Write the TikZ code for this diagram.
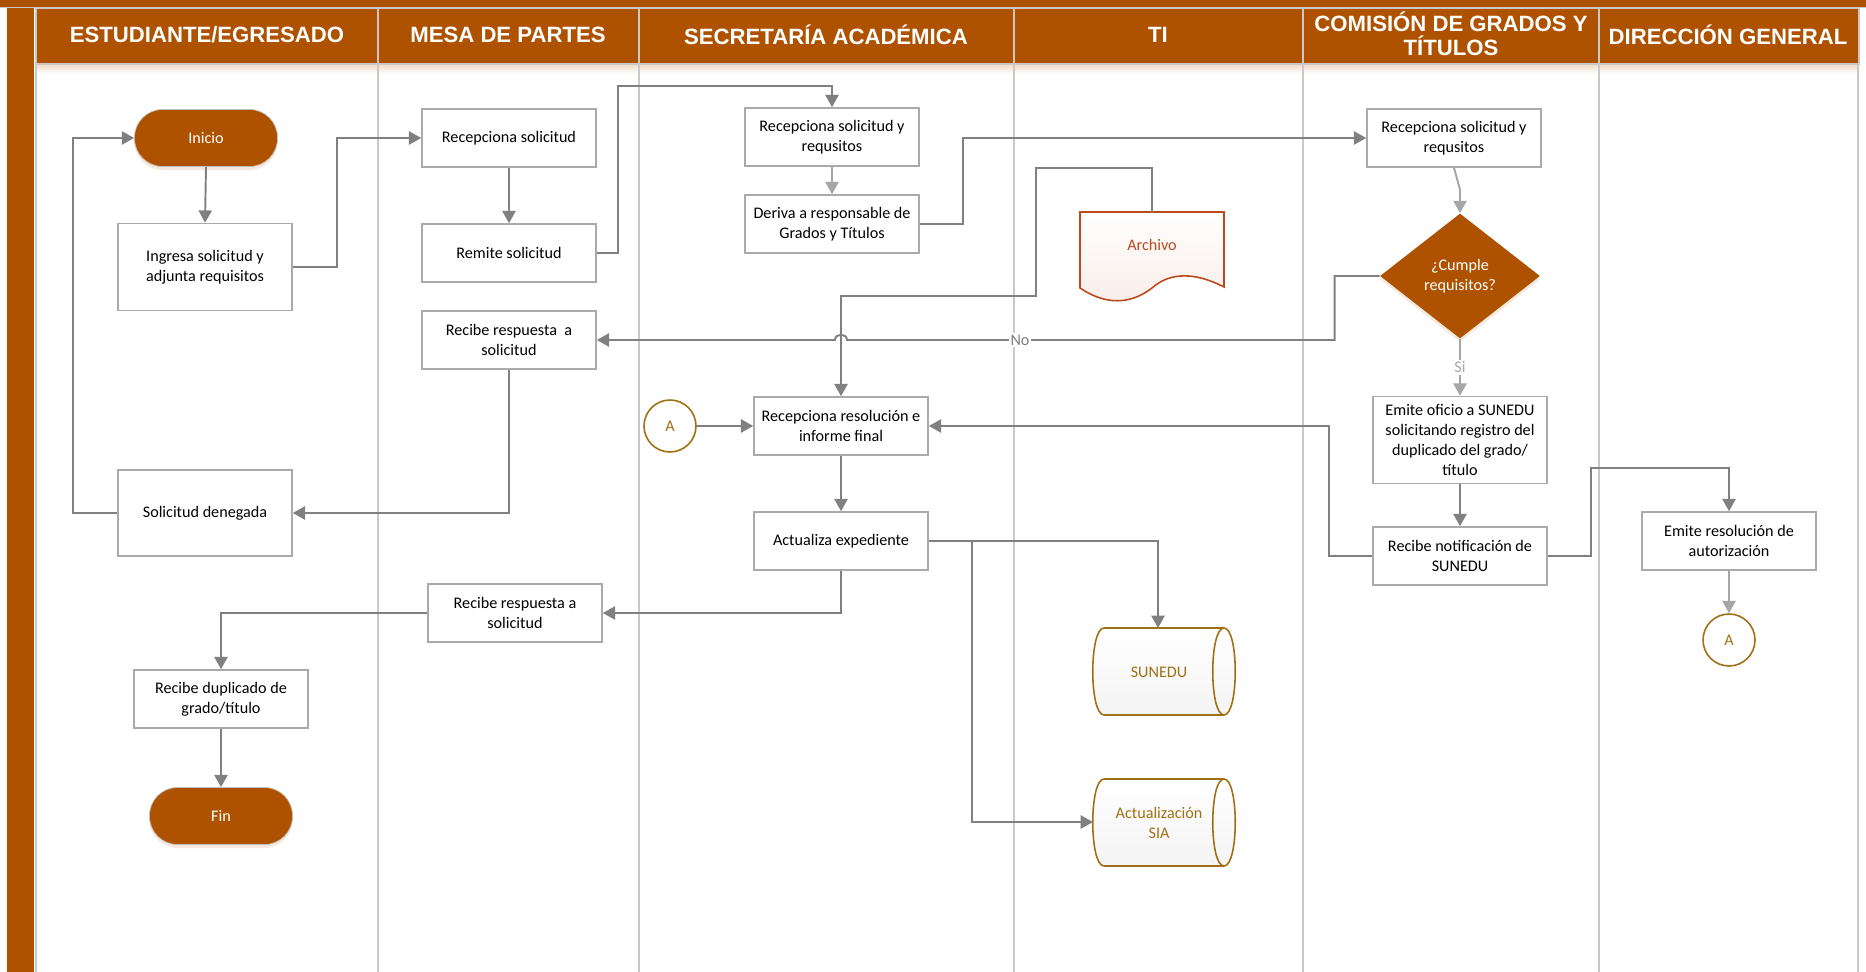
\documentclass[tikz,border=0pt]{standalone}
\usepackage{fontspec}
\setmainfont{Carlito}
\newfontfamily\hdrfont{Liberation Sans}
\usetikzlibrary{arrows.meta,shapes.geometric,shadows,calc}
\definecolor{orng}{RGB}{175,82,0}
\definecolor{gold}{RGB}{160,112,20}
\definecolor{archc}{RGB}{188,72,28}
\definecolor{lnc}{RGB}{128,128,128}
\definecolor{lnl}{RGB}{166,166,166}
\definecolor{bxc}{RGB}{170,170,170}
\definecolor{colc}{RGB}{205,199,197}
\begin{document}
\begin{tikzpicture}[x=0.02cm,y=-0.02cm,
  every node/.style={font=\fontsize{9.2}{11.3}\selectfont, align=center},
  proc/.style={draw=bxc, line width=0.9pt, fill=white, minimum width=174*0.02cm, minimum height=58*0.02cm, inner sep=1pt},
  term/.style={fill=orng, draw=gray!50, line width=0.4pt, text=white, rounded corners=0.56cm, minimum width=143*0.02cm, minimum height=57*0.02cm,
     drop shadow={shadow xshift=0pt, shadow yshift=-2pt, opacity=0.35, fill=orng!35}},
  dec/.style={diamond, fill=orng, text=white, minimum width=160*0.02cm, minimum height=125*0.02cm, inner sep=0pt, aspect=1.28,
     drop shadow={shadow xshift=0pt, shadow yshift=-2pt, opacity=0.35, fill=orng!35}},
  conA/.style={circle, draw=gold, line width=0.9pt, fill=white, text=gold, minimum size=52*0.02cm, inner sep=0pt},
  conn/.style={draw=lnc, line width=1.1pt, -{Triangle[length=7pt,width=7.5pt]}},
  connl/.style={conn, draw=lnl},
  hdr/.style={text=white, font=\hdrfont\bfseries\fontsize{12.6}{14}\selectfont},
  hcell/.style={fill=orng, draw=colc, line width=0.8pt},
  store/.style={draw=gold, line width=0.9pt, top color=white, bottom color=gray!9},
  docsh/.style={draw=archc, line width=0.9pt, top color=white, bottom color=archc!10},
  lbl/.style={fill=white, inner sep=1pt}
]
\useasboundingbox (0,0) rectangle (1866,972);
% frame
\fill[white] (0,0) rectangle (1866,972);
\fill[orng] (0,0) rectangle (1866,7);
\draw[colc, line width=0.6pt] (0,7.5) -- (1866,7.5);
\fill[orng] (7,8) rectangle (34,972);
\shade[top color=orng!22, bottom color=white] (36,64) rectangle (1859,74);
\foreach \xa/\xb in {36/378,378/639,639/1014,1014/1303,1303/1599,1599/1859}
  \path[hcell] (\xa,8) rectangle (\xb,64);
\foreach \xx in {36,378,639,1014,1303,1599,1858}
  \draw[colc, line width=1.2pt] (\xx,64) -- (\xx,972);
% headers
\node[hdr] (h1) at (207,35) {ESTUDIANTE/EGRESADO};
\node[hdr] (h2) at (508,35) {MESA DE PARTES};
\node[hdr] (h3) at (826,35) {SECRETARÍA ACADÉMICA};
\node[hdr] (h4) at (1158,35) {TI};
\node[hdr] (h5) at (1451,34) {COMISIÓN DE GRADOS Y\\TÍTULOS};
\node[hdr] (h6) at (1728,35) {DIRECCIÓN GENERAL};

% column 1
\node[term] (inicio) at (206,138) {Inicio};
\node[proc, minimum height=87*0.02cm] (ingresa) at (205,267) {Ingresa solicitud y\\adjunta requisitos};
\node[proc, minimum height=86*0.02cm] (deneg) at (205,513) {Solicitud denegada};
\node[proc] (dupl) at (221,699) {Recibe duplicado de\\grado/título};
\node[term] (fin) at (221,816) {Fin};
% column 2
\node[proc] (mp1) at (509,138) {Recepciona solicitud};
\node[proc] (mp2) at (509,253) {Remite solicitud};
\node[proc] (mp3) at (509,340) {Recibe respuesta~ a\\solicitud};
\node[proc] (mp4) at (515,613) {Recibe respuesta a\\solicitud};
% column 3
\node[proc] (sa1) at (832,137) {Recepciona solicitud y\\requsitos};
\node[proc] (sa2) at (832,224) {Deriva a responsable de\\Grados y Títulos};
\node[proc] (sa3) at (841,426) {Recepciona resolución e\\informe final};
\node[proc] (sa4) at (841,541) {Actualiza expediente};
\node[conA] (a1) at (670,426) {A};
% column 4 (TI)
\path[docsh] (1080,212) -- (1224,212) -- (1224,287) .. controls (1195,272) and (1170,272) .. (1152,288) .. controls (1130,305) and (1105,305) .. (1080,288) -- cycle;
\coordinate (archtop) at (1152,212);
\node[text=archc] (arch) at (1152,245) {Archivo};
\path[store] (1104,628) -- (1224,628) .. controls (1239,628) and (1239,715) .. (1224,715) -- (1104,715) .. controls (1089,715) and (1089,628) .. (1104,628) -- cycle;
\draw[gold, line width=0.9pt] (1224,628) .. controls (1209,628) and (1209,715) .. (1224,715);
\node[text=gold] (sunedu) at (1159,672) {SUNEDU};
\coordinate (sunedutop) at (1158,628);
\path[store] (1104,779) -- (1224,779) .. controls (1239,779) and (1239,866) .. (1224,866) -- (1104,866) .. controls (1089,866) and (1089,779) .. (1104,779) -- cycle;
\draw[gold, line width=0.9pt] (1224,779) .. controls (1209,779) and (1209,866) .. (1224,866);
\node[text=gold] (sia) at (1159,823) {Actualización\\SIA};
\coordinate (siaL) at (1093,822);
% column 5
\node[proc] (cg1) at (1454,138) {Recepciona solicitud y\\requsitos};
\node[dec] (dec) at (1460,276) {¿Cumple\\requisitos?};
\node[proc, minimum height=87*0.02cm] (cg2) at (1460,440) {Emite oficio a SUNEDU\\solicitando registro del\\duplicado del grado/\\título};
\node[proc] (cg3) at (1460,556) {Recibe notificación de\\SUNEDU};
% column 6
\node[proc] (dg1) at (1729,541) {Emite resolución de\\autorización};
\node[conA] (a2) at (1729,640) {A};

% connectors
\draw[conn] (inicio.south) -- (ingresa.north);
\draw[conn] (ingresa.east) -- ++(44,0) |- (mp1.west);
\draw[conn] (mp1) -- (mp2);
\draw[conn] (mp2.east) -- ++(21,0) |- ([yshift=0.42cm]sa1.north) -- (sa1.north);
\draw[connl] (sa1) -- (sa2);
\draw[conn] (sa2.east) -- ++(43,0) |- (cg1.west);
\draw[connl] (cg1.south) -- ++(6,22) -- (dec.north);
\draw[connl] (dec.south) -- node[lbl, text=lnl] (si) {Si} (cg2.north);
\draw[conn] (archtop) -- ++(0,-44) -- ++(-116,0) -- ++(0,128) -| (sa3.north);
\draw[conn] (dec.west) -- ++(-45,0) -- ++(0,64) -- (847,340) .. controls (847,333) and (835,333) .. (835,340) -- (mp3.east);
\node[lbl, text=lnc] (no) at (1020,340) {No};
\draw[conn] (a1) -- (sa3);
\draw[conn] (cg3.west) -- ++(-43,0) |- (sa3.east);
\draw[conn] (cg2) -- (cg3);
\draw[conn] (cg3.east) -- ++(43,0) |- ([yshift=0.86cm]dg1.north) -- (dg1.north);
\draw[connl] (dg1) -- (a2);
\draw[conn] (sa3) -- (sa4);
\draw[conn] (sa4.east) -| (sunedutop);
\draw[conn] (sa4.east) -- ++(43,0) |- (siaL);
\draw[conn] (sa4.south) |- (mp4.east);
\draw[conn] (mp4.west) -| (dupl.north);
\draw[conn] (dupl) -- (fin);
\draw[conn] (mp3.south) |- (deneg.east);
\draw[conn] (deneg.west) -- ++(-44,0) |- (inicio.west);
\end{tikzpicture}
\end{document}
